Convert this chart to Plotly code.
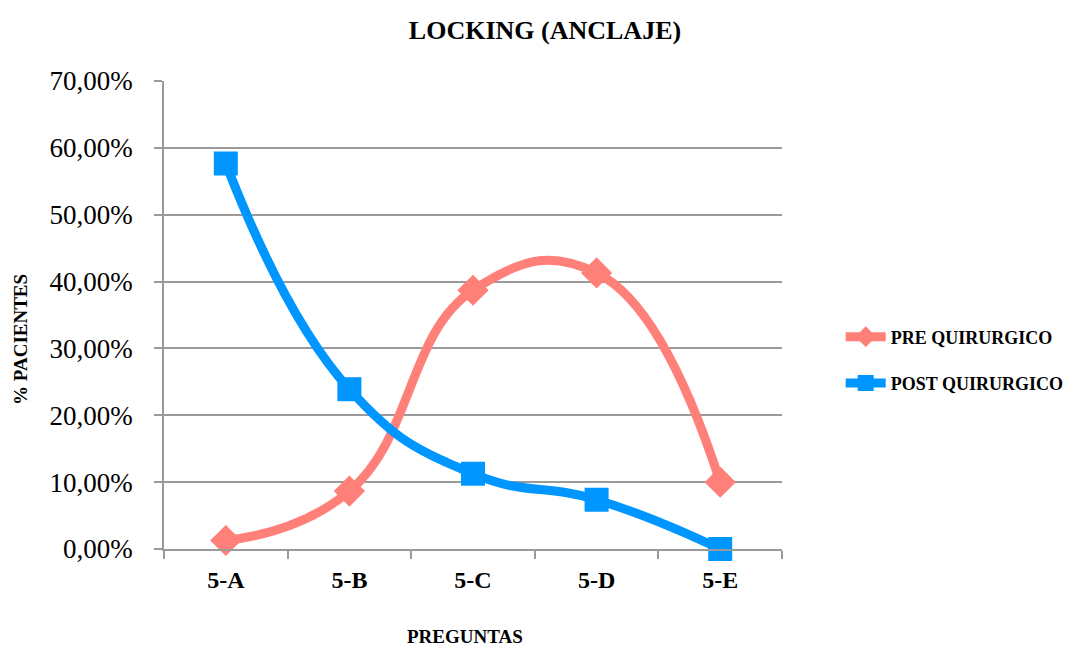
import plotly.graph_objects as go

categories = ["5-A", "5-B", "5-C", "5-D", "5-E"]
pre_values = [0.0127, 0.0866, 0.387, 0.413, 0.100]
post_values = [0.5766, 0.239, 0.1126, 0.0737, 0.0]
series_names = ["PRE QUIRURGICO", "POST QUIRURGICO"]
y_ticks = [0, 0.1, 0.2, 0.3, 0.4, 0.5, 0.6, 0.7]

PRE_COLOR = "#FF7F79"
POST_COLOR = "#0096FF"
SERIF = "Liberation Serif"

fig = go.Figure()
fig.add_trace(go.Scatter(
    x=categories, y=pre_values, name="<b>" + series_names[0] + "</b>",
    legendgroup="pre",
    mode="lines+markers", cliponaxis=False,
    line=dict(color=PRE_COLOR, width=9, shape="spline", smoothing=1.3),
    marker=dict(symbol="diamond", size=24, color=PRE_COLOR),
))
fig.add_trace(go.Scatter(
    x=categories, y=post_values, name="<b>" + series_names[1] + "</b>",
    legendgroup="post",
    mode="lines+markers", cliponaxis=False,
    line=dict(color=POST_COLOR, width=9, shape="spline", smoothing=1.3),
    marker=dict(symbol="square", size=24, color=POST_COLOR),
))

fig.update_layout(
    width=1082, height=646,
    margin=dict(l=164, r=300, t=81, b=97, autoexpand=False),
    paper_bgcolor="white", plot_bgcolor="white",
    separators=", ",
    font=dict(family=SERIF, color="black"),
    title=dict(text="<b>LOCKING (ANCLAJE)</b>", x=545/1082, y=1-30/646,
               xanchor="center", yanchor="middle",
               font=dict(family=SERIF, size=26, color="black")),
    showlegend=True,
    legend=dict(x=1.095, y=(549-360)/468, xanchor="left", yanchor="middle",
                font=dict(family=SERIF, size=18, color="black"),
                tracegroupgap=20, itemwidth=40, bgcolor="rgba(0,0,0,0)"),
    xaxis=dict(
        type="category", range=[-0.5, 4.5],
        showline=True, linecolor="#9a9a9a", linewidth=1.5,
        ticks="outside", tickson="boundaries", ticklen=8, tickcolor="#9a9a9a", tickwidth=1.5,
        showgrid=False, zeroline=False,
        tickfont=dict(family=SERIF, size=24, color="black"),
        ticklabelstandoff=8,
        tickprefix="<b>", ticksuffix="</b>",
    ),
    yaxis=dict(
        range=[0, 0.7], tickvals=y_ticks, tickformat=".2%",
        showline=True, linecolor="#9a9a9a", linewidth=1.5,
        ticks="outside", ticklen=8, tickcolor="#9a9a9a", tickwidth=1.5,
        showgrid=True, gridcolor="#9a9a9a", gridwidth=1.5,
        zeroline=False,
        tickfont=dict(family=SERIF, size=27, color="black"),
        ticklabelstandoff=16,
    ),
    annotations=[
        dict(text="<b>% PACIENTES</b>", xref="paper", yref="paper",
             x=(20-164)/618, y=(549-340)/468, textangle=-90,
             showarrow=False, xanchor="center", yanchor="middle",
             font=dict(family=SERIF, size=19, color="black")),
        dict(text="<b>PREGUNTAS</b>", xref="paper", yref="paper",
             x=(465-164)/618, y=(549-636)/468,
             showarrow=False, xanchor="center", yanchor="middle",
             font=dict(family=SERIF, size=19, color="black")),
    ],
)

fig.write_html("out.html")
